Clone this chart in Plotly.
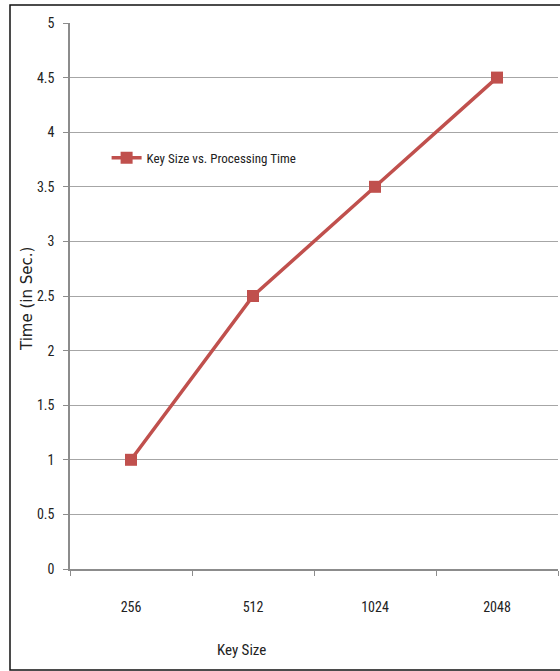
import plotly.graph_objects as go

key_sizes = ["256", "512", "1024", "2048"]
times = [1, 2.5, 3.5, 4.5]
y_ticks = [0, 0.5, 1, 1.5, 2, 2.5, 3, 3.5, 4, 4.5, 5]
y_tick_text = ["0", "0.5", "1", "1.5", "2", "2.5", "3", "3.5", "4", "4.5", "5"]

narrow = "Liberation Sans Narrow, Arial Narrow, Roboto Condensed, sans-serif"
red = "#C0504D"

fig = go.Figure()
fig.add_trace(go.Scatter(
    x=key_sizes, y=times, mode="lines+markers",
    name="Key Size vs. Processing Time",
    line=dict(color=red, width=3.5),
    marker=dict(symbol="square", size=12, color=red),
))

fig.update_layout(
    width=560, height=671,
    margin=dict(l=70, r=2, t=23, b=102),
    paper_bgcolor="white", plot_bgcolor="white",
    font=dict(family=narrow, size=13, color="#222"),
    showlegend=True,
    legend=dict(x=0.075, y=0.753, xanchor="left", yanchor="middle",
                bgcolor="rgba(0,0,0,0)", font=dict(family=narrow, size=13),
                itemwidth=30),
    xaxis=dict(type="category", range=[-0.5, 3.5], showgrid=False,
               showline=True, linecolor="#8c8c8c", linewidth=1.5,
               ticks="outside", tickson="boundaries", ticklen=5,
               tickcolor="#8c8c8c", ticklabelstandoff=24,
               tickfont=dict(family=narrow, size=14)),
    yaxis=dict(range=[0, 5], tickvals=y_ticks, ticktext=y_tick_text,
               showgrid=True, gridcolor="#a6a6a6", gridwidth=1.3,
               showline=True, linecolor="#8c8c8c", linewidth=1.5,
               ticks="outside", ticklen=5, tickcolor="#8c8c8c",
               ticklabelstandoff=6, zeroline=False,
               tickfont=dict(family=narrow, size=14)),
    annotations=[
        dict(text="Key Size", xref="paper", yref="paper",
             x=(241 - 70) / 488, y=(569 - 650) / 546,
             xanchor="center", yanchor="middle", showarrow=False,
             font=dict(family=narrow, size=15, color="#222")),
        dict(text="Time (in Sec.)", xref="paper", yref="paper",
             x=(27 - 70) / 488, y=(569 - 299) / 546, textangle=-90,
             xanchor="center", yanchor="middle", showarrow=False,
             font=dict(family="DejaVu Sans, Verdana, sans-serif", size=15,
                       color="#222")),
    ],
    shapes=[
        dict(type="rect", xref="paper", yref="paper",
             x0=(10 - 70) / 488, x1=(566 - 70) / 488,
             y0=(569 - 670) / 546, y1=(569 - 5) / 546,
             line=dict(color="#111", width=1.5), fillcolor="rgba(0,0,0,0)",
             layer="below"),
    ],
)

fig.write_html("out.html")
